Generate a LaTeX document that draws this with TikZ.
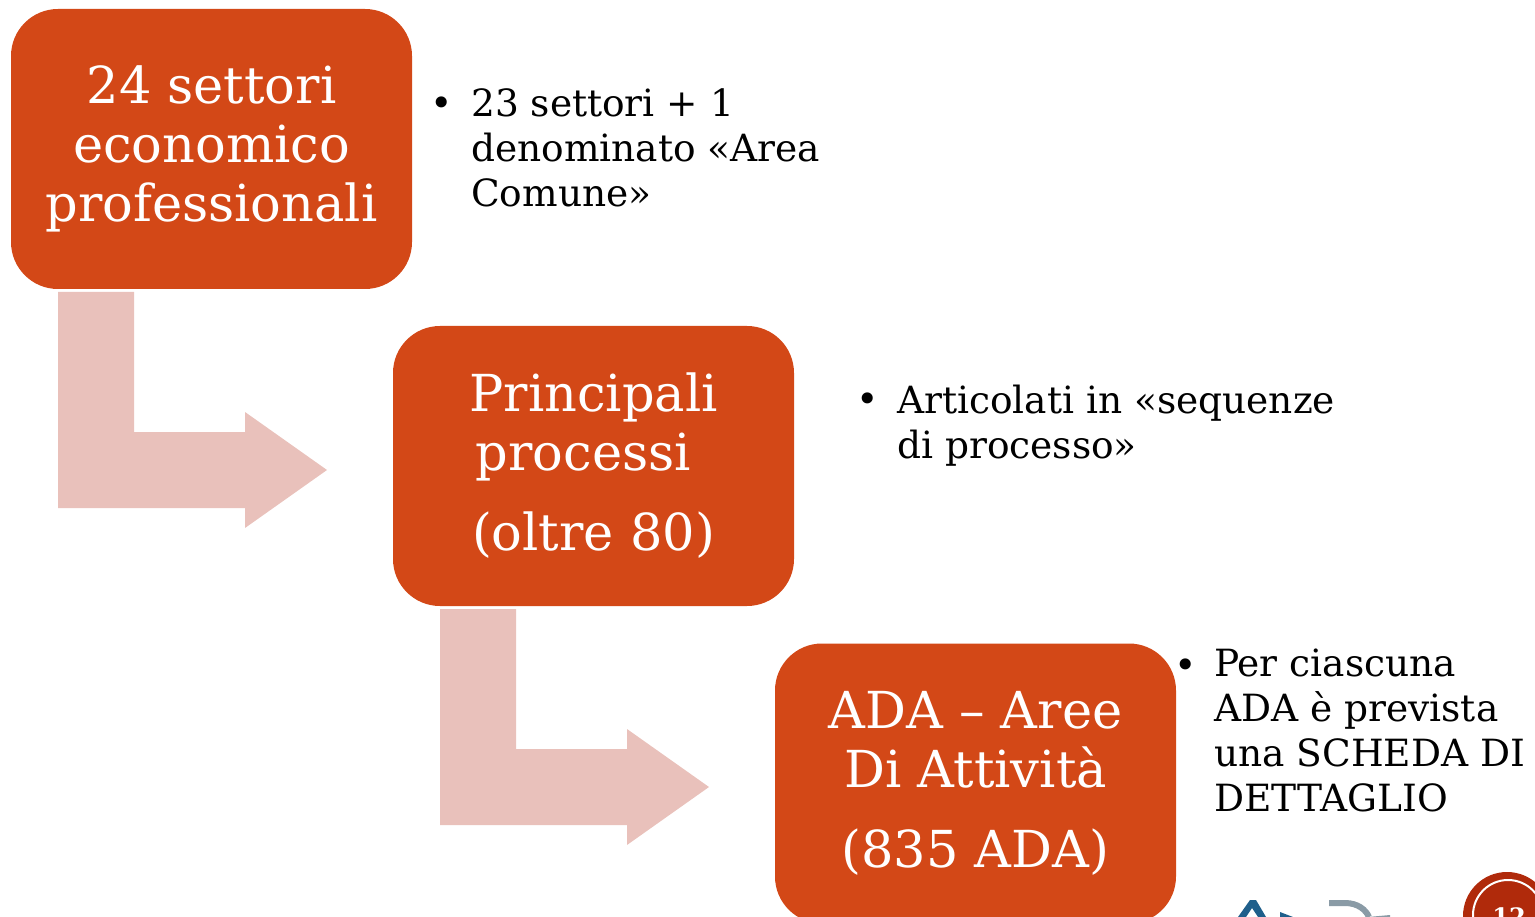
\documentclass[tikz,border=0pt]{standalone}
\usepackage{fontspec}
\setmainfont{DejaVu Serif}
\definecolor{boxred}{HTML}{D34817}
\definecolor{pinkarrow}{HTML}{E9C1BB}
\definecolor{badgered}{HTML}{B02A0B}
\definecolor{logoblue}{HTML}{1F5F8B}
\definecolor{logogrey}{HTML}{8A9BA6}
\tikzset{
    stagebox/.style={rectangle,rounded corners=47pt,fill=boxred,text=white,minimum width=401pt,minimum height=280pt,align=center,inner sep=0pt,font=\fontsize{51}{59}\selectfont},
    notetext/.style={anchor=north west,align=left,inner sep=0pt,text=black,font=\fontsize{37.5}{45}\selectfont},
    notedot/.style={inner sep=0pt,text=black,font=\fontsize{38}{45}\selectfont},
    bentarrow/.style={fill=pinkarrow,draw=none}
}
\begin{document}
\begin{tikzpicture}[x=1pt,y=-1pt]
    \useasboundingbox (0,0) rectangle (1535,917);
    \clip (0,0) rectangle (1535,917);

    \node[stagebox] (settori) at (211.5,149) {24 settori\\economico\\professionali};
    \node[stagebox] (processi) at (593.5,466) {Principali\\\mbox{processi\kern20pt}\\[21pt](oltre 80)};
    \node[stagebox] (ada) at (975.5,783.5) {ADA -- Aree\\Di Attività\\[21pt](835 ADA)};

    % bent arrows
    \foreach \dx/\dy in {0/0,382/317}
    {
        \fill[bentarrow,shift={(\dx,\dy)}] (58,292) -- (134,292) -- (134,432) -- (245,432) -- (245,412) -- (327,470) -- (245,528) -- (245,508) -- (58,508) -- cycle;
    }

    \node[notedot] (dota) at (442,107) {•};
    \node[notetext] (notea) at (471,88) {23 settori + 1\\denominato «Area\\Comune»};
    \node[notedot] (dotb) at (868,403) {•};
    \node[notetext] (noteb) at (897,385) {Articolati in «sequenze\\di processo»};
    \node[notedot] (dotc) at (1186,669) {•};
    \node[notetext] (notec) at (1214,649) {Per ciascuna\\ADA è prevista\\una SCHEDA DI\\DETTAGLIO};

    % logo, cut by the page edge
    \fill[logoblue] (1250,900) -- (1256,900) -- (1266,917) -- (1258,917) -- (1252,908) -- (1246,917) -- (1238,917) -- cycle;
    \fill[logoblue] (1280,912) -- (1293,917) -- (1280,917) -- cycle;
    \draw[logogrey,line width=6pt] (1329,903) -- (1345,903) .. controls (1358,903) and (1366,910) .. (1369,917);
    \fill[logogrey] (1368,917) -- (1390,915) -- (1390,917) -- cycle;

    % page badge
    \fill[badgered] (1507,916) circle (44);
    \draw[white,line width=2pt] (1508,915) circle (35);
    \node[text=white,font=\bfseries\fontsize{24}{24}\selectfont] (badge) at (1509,917) {12};
\end{tikzpicture}
\end{document}
